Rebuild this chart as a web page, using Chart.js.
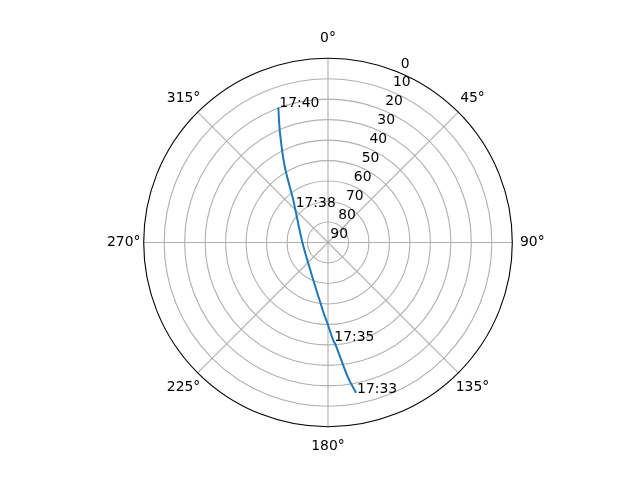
<!DOCTYPE html>
<html>
<head>
<meta charset="utf-8">
<script src="https://cdn.jsdelivr.net/npm/chart.js@4/dist/chart.umd.min.js"></script>
<style>
  html, body { margin: 0; padding: 0; background: #ffffff; }
  canvas { display: block; }
</style>
</head>
<body>
<canvas id="polarChart" width="640" height="480"></canvas>
<script>
// satellite pass track, azimuth (deg, clockwise from north) and elevation (deg)
const trackAz = [169.4, 171.5, 175.7, 176.9, 180.0, 183.9, 203.1, 270.0, 317.1, 320.8, 330.3, 336.3, 339.8];
const trackEl = [15.4, 23.0, 39.8, 42.0, 49.7, 56.1, 71.0, 77.5, 66.1, 63.2, 47.4, 31.7, 19.7];

// labelled times along the track
const markTimes = ['17:33', '17:35', '17:38', '17:40'];
const markAz = [169.4, 176.9, 317.1, 339.8];
const markEl = [15.4, 42.0, 66.1, 19.7];

// axis ticks
const elevTicks = [0, 10, 20, 30, 40, 50, 60, 70, 80, 90];
const azTicks = [0, 45, 90, 135, 180, 225, 270, 315];

const FONT = '13.9px "DejaVu Sans"';

// polar (az, el) -> plane, zenith in the middle, horizon at radius 90
function toXY(az, el) {
  const r = 90 - el;
  const a = az * Math.PI / 180;
  return { x: r * Math.sin(a), y: r * Math.cos(a) };
}

const trackPts = trackAz.map((az, i) => toXY(az, trackEl[i]));
const markPts = markAz.map((az, i) => toXY(az, markEl[i]));

const polarGrid = {
  id: 'polarGrid',
  beforeDatasetsDraw(chart) {
    const ctx = chart.ctx;
    const xs = chart.scales.x, ys = chart.scales.y;
    const cx = xs.getPixelForValue(0), cy = ys.getPixelForValue(0);
    const rad = v => xs.getPixelForValue(90 - v) - cx;
    const R = rad(0);
    ctx.save();
    ctx.strokeStyle = '#b0b0b0';
    ctx.lineWidth = 1.1;
    elevTicks.forEach(v => {
      if (v === 0 || v === 90) return;
      ctx.beginPath();
      ctx.arc(cx, cy, rad(v), 0, Math.PI * 2);
      ctx.stroke();
    });
    azTicks.forEach(a => {
      const t = a * Math.PI / 180;
      ctx.beginPath();
      ctx.moveTo(cx, cy);
      ctx.lineTo(cx + R * Math.sin(t), cy - R * Math.cos(t));
      ctx.stroke();
    });
    ctx.restore();
  },
  afterDatasetsDraw(chart) {
    const ctx = chart.ctx;
    const xs = chart.scales.x, ys = chart.scales.y;
    const cx = xs.getPixelForValue(0), cy = ys.getPixelForValue(0);
    const rad = v => xs.getPixelForValue(90 - v) - cx;
    const R = rad(0);
    ctx.save();
    // outer spine
    ctx.strokeStyle = '#000000';
    ctx.lineWidth = 1.1;
    ctx.beginPath();
    ctx.arc(cx, cy, R, 0, Math.PI * 2);
    ctx.stroke();

    ctx.fillStyle = '#000000';
    ctx.font = FONT;
    // azimuth labels
    ctx.textAlign = 'center';
    ctx.textBaseline = 'middle';
    azTicks.forEach(a => {
      const t = a * Math.PI / 180;
      ctx.fillText(a + '°', cx + (R + 20) * Math.sin(t), cy - (R + 20) * Math.cos(t));
    });
    // elevation labels at 22.5 deg
    ctx.textAlign = 'left';
    const t = 22.5 * Math.PI / 180;
    elevTicks.forEach(v => {
      const r = rad(v);
      ctx.fillText(String(v), cx + r * Math.sin(t) + 2.3, cy - r * Math.cos(t) - 8.3);
    });
    // time annotations
    ctx.textBaseline = 'alphabetic';
    const meta = chart.getDatasetMeta(1);
    meta.data.forEach((pt, i) => {
      ctx.fillText(markTimes[i], pt.x + 1, pt.y);
    });
    ctx.restore();
  }
};

const passChart = new Chart(document.getElementById('polarChart'), {
  type: 'scatter',
  data: {
    datasets: [
      {
        label: 'track',
        data: trackPts,
        showLine: true,
        borderColor: '#1f77b4',
        borderWidth: 2,
        pointRadius: 0,
        tension: 0.3,
      },
      {
        label: 'times',
        data: markPts,
        showLine: false,
        pointRadius: 0,
      },
    ],
  },
  options: {
    responsive: false,
    animation: false,
    devicePixelRatio: 1,
    layout: {
      padding: { left: 143.7, right: 127.7, top: 58.2, bottom: 53.2 },
    },
    plugins: {
      legend: { display: false },
      tooltip: { enabled: false },
    },
    scales: {
      x: { display: false, min: -90, max: 90 },
      y: { display: false, min: -90, max: 90 },
    },
  },
  plugins: [polarGrid],
});
</script>
</body>
</html>
